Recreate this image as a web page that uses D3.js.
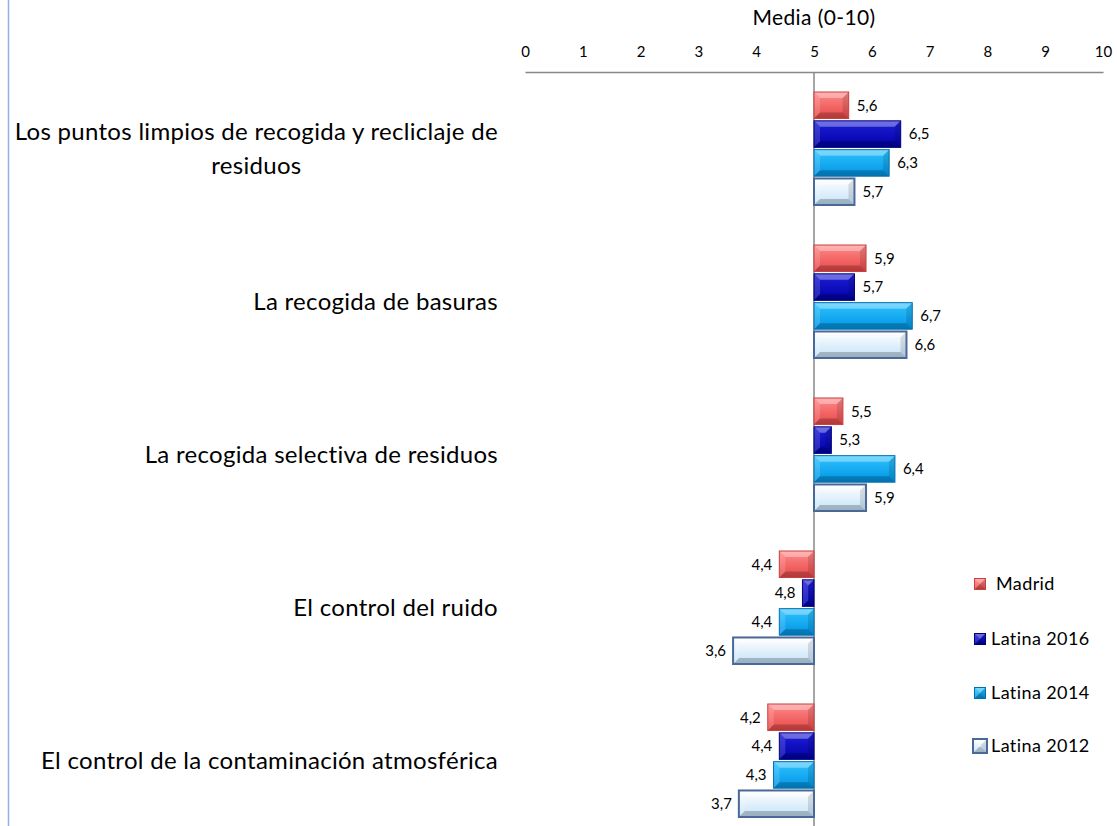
<!DOCTYPE html>
<html><head><meta charset="utf-8">
<script src="https://cdn.jsdelivr.net/npm/d3@7"></script>
<style>body{margin:0;background:#fff;}svg{display:block;font-family:Lato,"Open Sans",sans-serif;}</style>
</head><body><svg id="c" width="1117" height="826"></svg>
<script>
const categories = [
  ["Los puntos limpios de recogida y recliclaje de", "residuos"],
  ["La recogida de basuras"],
  ["La recogida selectiva de residuos"],
  ["El control del ruido"],
  ["El control de la contaminación atmosférica"]
];
const seriesNames = ["Madrid", "Latina 2016", "Latina 2014", "Latina 2012"];
const madrid = [5.6, 5.9, 5.5, 4.4, 4.2];
const latina2016 = [6.5, 5.7, 5.3, 4.8, 4.4];
const latina2014 = [6.3, 6.7, 6.4, 4.4, 4.3];
const latina2012 = [5.7, 6.6, 5.9, 3.6, 3.7];
const tickValues = [0,1,2,3,4,5,6,7,8,9,10];
const axisTitle = "Media (0-10)";
const baseline = 5;

const seriesValues = [madrid, latina2016, latina2014, latina2012];
const styles = [
  {top:"#ff8a8a", bot:"#e84848", stroke:"#c84040"},
  {top:"#2020d8", bot:"#0000a8", stroke:"#00007a"},
  {top:"#30c4ff", bot:"#0094e4", stroke:"#0070b0"},
  {top:"#ffffff", bot:"#c4e2f8", stroke:"#4a6898", sw:2}
];

const svg = d3.select("#c");
const defs = svg.append("defs");
styles.forEach((s,i)=>{
  const g = defs.append("linearGradient").attr("id","g"+i).attr("x1",0).attr("y1",0).attr("x2",0).attr("y2",1);
  g.append("stop").attr("offset","0%").attr("stop-color",s.top);
  g.append("stop").attr("offset","100%").attr("stop-color",s.bot);
});

// left border line
svg.append("line").attr("x1",8.5).attr("x2",8.5).attr("y1",0).attr("y2",826)
  .attr("stroke","#8fb3e0").attr("stroke-width",1.5);

const x = d3.scaleLinear().domain([0,10]).range([525,1103]);
const idx = d3.range(categories.length);
const y = d3.scaleBand().domain(idx).range([72, 72+5*153]);
const ys = d3.scaleBand().domain(d3.range(seriesNames.length)).range([20,133]).paddingInner(0.08);

// axis
const ax = svg.append("g").attr("transform","translate(0,72)")
  .call(d3.axisTop(x).tickValues(tickValues).tickSize(0).tickSizeOuter(0).tickPadding(15).tickFormat(d3.format("d")));
ax.select(".domain").attr("stroke","#888").attr("stroke-width",1.5);
ax.selectAll("text").attr("font-size",15).attr("fill","#000").attr("font-family","Lato,'Open Sans',sans-serif");
svg.append("text").attr("x",x(5)).attr("y",25).attr("text-anchor","middle")
  .attr("font-size",21).attr("letter-spacing",0.4).attr("fill","#000").text(axisTitle);

// baseline vertical
svg.append("line").attr("x1",x(baseline)).attr("x2",x(baseline)).attr("y1",72).attr("y2",826)
  .attr("stroke","#888").attr("stroke-width",1.5);

function bevelBar(g, x0, y0, w, h, si){
  const s = styles[si];
  const b = Math.min(6, w/2, h/2);
  const x1 = x0+w, y1 = y0+h;
  g.append("rect").attr("x",x0).attr("y",y0).attr("width",w).attr("height",h)
    .attr("fill","url(#g"+si+")");
  g.append("path").attr("d",`M${x0},${y0}L${x1},${y0}L${x1-b},${y0+b}L${x0+b},${y0+b}Z`).attr("fill","#fff").attr("opacity",0.35);
  g.append("path").attr("d",`M${x0},${y1}L${x1},${y1}L${x1-b},${y1-b}L${x0+b},${y1-b}Z`).attr("fill","#000").attr("opacity",0.22);
  g.append("path").attr("d",`M${x0},${y0}L${x0+b},${y0+b}L${x0+b},${y1-b}L${x0},${y1}Z`).attr("fill","#fff").attr("opacity",0.15);
  g.append("path").attr("d",`M${x1},${y0}L${x1-b},${y0+b}L${x1-b},${y1-b}L${x1},${y1}Z`).attr("fill","#000").attr("opacity",0.12);
  g.append("rect").attr("x",x0).attr("y",y0).attr("width",w).attr("height",h)
    .attr("fill","none").attr("stroke",s.stroke).attr("stroke-width",s.sw||1);
}

const fmt = v => d3.format(".1f")(v).replace(".",",");
const bars = svg.append("g");
idx.forEach(ci=>{
  seriesValues.forEach((vals,si)=>{
    const v = vals[ci];
    const xa = x(Math.min(v,baseline)), xb = x(Math.max(v,baseline));
    const yy = y(ci)+ys(si), hh = ys.bandwidth();
    bevelBar(bars, xa, yy, xb-xa, hh, si);
    const lab = bars.append("text").attr("y",yy+hh/2).attr("dy","0.35em").attr("font-size",15).attr("fill","#000").text(fmt(v));
    if (v >= baseline) lab.attr("x",x(v)+8).attr("text-anchor","start");
    else lab.attr("x",x(v)-7).attr("text-anchor","end");
  });
});

// category labels
const cl = svg.append("g");
idx.forEach(ci=>{
  const lines = categories[ci];
  const cy = y(ci)+y.bandwidth()/2;
  const lh = 34;
  const t = cl.append("g");
  const texts = lines.map((ln,i)=> t.append("text").attr("font-size",24).attr("letter-spacing",0.3).attr("fill","#000")
      .attr("y", cy + (i-(lines.length-1)/2)*lh).attr("dy","0.35em").text(ln));
  const widths = texts.map(tx=>tx.node().getComputedTextLength());
  const maxW = d3.max(widths);
  const right = 498;
  texts.forEach((tx,i)=> tx.attr("x", right - maxW/2).attr("text-anchor","middle"));
});

// legend
const legY = [584, 639, 693, 746];
const lg = svg.append("g");
seriesNames.forEach((n,si)=>{
  const sz = si===3 ? 14 : 11;
  const cx = 980;
  bevelBar(lg, cx-sz/2, legY[si]-sz/2, sz, sz, si);
  lg.append("text").attr("x", si===0 ? 996 : 991).attr("y",legY[si]).attr("dy","0.35em")
    .attr("font-size",18).attr("letter-spacing",0.4).attr("fill","#000").text(n);
});
</script></body></html>
